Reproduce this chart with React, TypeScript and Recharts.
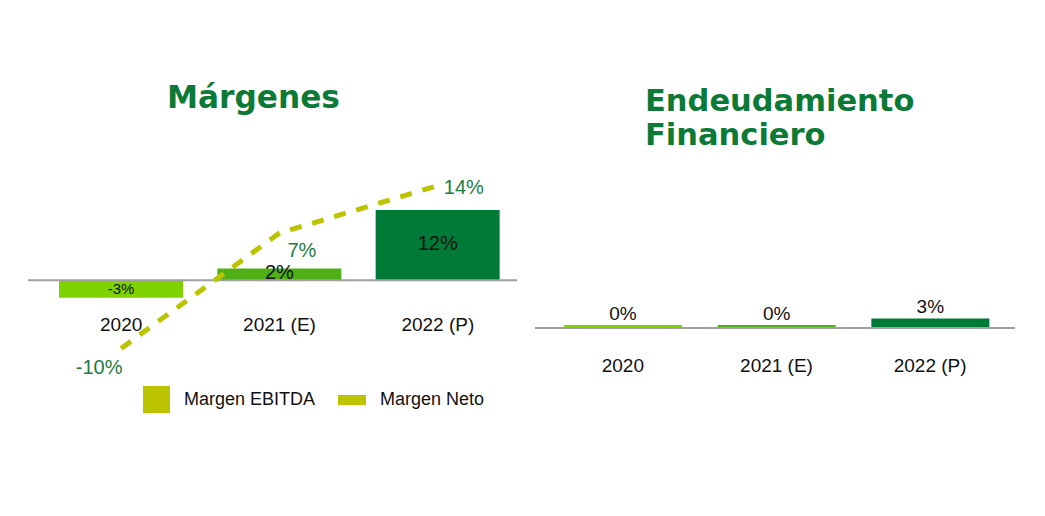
import React from 'react';
import {
  ComposedChart,
  BarChart,
  Bar,
  Line,
  XAxis,
  YAxis,
  Cell,
  LabelList,
  ReferenceLine,
} from 'recharts';

// ---- data ----
const categories = ['2020', '2021 (E)', '2022 (P)'];
const margenEbitda = [-3, 2, 12];
const margenNeto = [-10, 7, 14];
const endeudamiento = [0, 0, 3];
const seriesNames = ['Margen EBITDA', 'Margen Neto'];
const titles = ['Márgenes', 'Endeudamiento', 'Financiero'];

// ---- styles ----
const barColors = ['#7ED200', '#4EB015', '#007A37'];
const olive = '#BCC400';
const titleGreen = '#0B7A37';
const labelGreen = '#1B7D3E';
const axisGray = '#A0A0A0';
const FONT = '"Liberation Sans", Arial, sans-serif';

const margenesData = categories.map((c, i) => ({
  name: c,
  ebitda: margenEbitda[i],
  neto: margenNeto[i],
}));
const deudaData = categories.map((c, i) => ({ name: c, deuda: endeudamiento[i] }));

const LeftTick = (props: any) => {
  const { x, y, payload } = props;
  return (
    <text x={x} y={y - 37} textAnchor="middle" fontSize={19} fontFamily={FONT} fill="#111">
      {payload.value}
    </text>
  );
};

const RightTick = (props: any) => {
  const { x, y, payload } = props;
  return (
    <text x={x} y={y + 38} textAnchor="middle" fontSize={19} fontFamily={FONT} fill="#111">
      {payload.value}
    </text>
  );
};

const fmt = (v: number) => `${v}%`;

const EbitdaLabel = (props: any) => {
  const { x, y, width, height, value } = props;
  const cx = x + width / 2;
  const cy = y + height / 2;
  return (
    <text
      x={cx}
      y={cy}
      dy={5}
      textAnchor="middle"
      fontSize={value < 0 ? 15 : 20}
      fontFamily={FONT}
      fill="#111"
    >
      {fmt(value)}
    </text>
  );
};

const NetoLabel = (props: any) => {
  const { x, y, value, index } = props;
  let dx = 0;
  let dy = 0;
  let anchor: any = 'middle';
  if (index === 0) {
    dx = -22;
    dy = 26;
  } else if (index === 1) {
    dx = 8;
    dy = 24;
    anchor = 'start';
  } else {
    dx = 6;
    dy = 8;
    anchor = 'start';
  }
  return (
    <text x={x + dx} y={y + dy} textAnchor={anchor} fontSize={20} fontFamily={FONT} fill={labelGreen}>
      {fmt(value)}
    </text>
  );
};

const Legend = () => (
  <div
    style={{
      position: 'absolute',
      left: 143,
      top: 386,
      display: 'flex',
      alignItems: 'center',
      height: 27,
      fontFamily: FONT,
      fontSize: 18,
      color: '#111',
    }}
  >
    <div style={{ width: 27, height: 27, background: olive }} />
    <span style={{ marginLeft: 14 }}>{seriesNames[0]}</span>
    <div style={{ width: 28, height: 10, background: olive, marginLeft: 23 }} />
    <span style={{ marginLeft: 14 }}>{seriesNames[1]}</span>
  </div>
);

export default function App() {
  return (
    <div
      style={{
        position: 'absolute',
        left: 0,
        top: 0,
        width: 1045,
        height: 516,
        background: '#fff',
        overflow: 'hidden',
      }}
    >
      <svg width={1045} height={516} style={{ position: 'absolute', left: 0, top: 0 }}>
        <g fontFamily='"DejaVu Sans", sans-serif' fontWeight="bold" fill={titleGreen}>
          <text x={167} y={108} fontSize={31.2}>{titles[0]}</text>
          <text x={645} y={111} fontSize={30.5}>{titles[1]}</text>
          <text x={645} y={145} fontSize={30.5}>{titles[2]}</text>
        </g>
      </svg>

      <div style={{ position: 'absolute', left: 0, top: 0 }}>
        <ComposedChart
          width={540}
          height={440}
          data={margenesData}
          margin={{ top: 172, right: 23, bottom: 48, left: 28 }}
        >
          <XAxis
            dataKey="name"
            axisLine={false}
            tickLine={false}
            tickMargin={0}
            height={30}
            padding={{ left: 14, right: 0 }}
            tick={<LeftTick />}
            interval={0}
          />
          <YAxis yAxisId="bars" hide domain={[-14, 18.5]} />
          <YAxis yAxisId="line" hide domain={[-12, 16]} orientation="right" />
          <Bar
            yAxisId="bars"
            dataKey="ebitda"
            name={seriesNames[0]}
            fill={olive}
            barSize={124}
            isAnimationActive={false}
          >
            {margenesData.map((_, i) => (
              <Cell key={i} fill={barColors[i]} />
            ))}
            <LabelList dataKey="ebitda" content={<EbitdaLabel />} />
          </Bar>
          <ReferenceLine yAxisId="bars" y={0} stroke={axisGray} strokeWidth={2} ifOverflow="extendDomain" />
          <Line
            yAxisId="line"
            type="linear"
            dataKey="neto"
            name={seriesNames[1]}
            stroke={olive}
            strokeWidth={5}
            strokeDasharray="12 11"
            dot={false}
            activeDot={false}
            isAnimationActive={false}
          >
            <LabelList dataKey="neto" content={<NetoLabel />} />
          </Line>
        </ComposedChart>
      </div>

      <Legend />

      <div style={{ position: 'absolute', left: 520, top: 0 }}>
        <BarChart
          width={525}
          height={420}
          data={deudaData}
          margin={{ top: 232, right: 30, bottom: 42, left: 15 }}
        >
          <XAxis
            dataKey="name"
            axisLine={{ stroke: axisGray, strokeWidth: 2 }}
            tickLine={false}
            tickMargin={0}
            height={50}
            padding={{ left: 11, right: 8 }}
            tick={<RightTick />}
            interval={0}
          />
          <YAxis hide domain={[0, 30]} />
          <Bar dataKey="deuda" barSize={118} minPointSize={3} isAnimationActive={false}>
            {deudaData.map((_, i) => (
              <Cell key={i} fill={barColors[i]} />
            ))}
            <LabelList
              dataKey="deuda"
              position="top"
              offset={5}
              formatter={(v: any) => fmt(v)}
              style={{ fontSize: 19, fontFamily: FONT, fill: '#111' }}
            />
          </Bar>
        </BarChart>
      </div>
    </div>
  );
}
